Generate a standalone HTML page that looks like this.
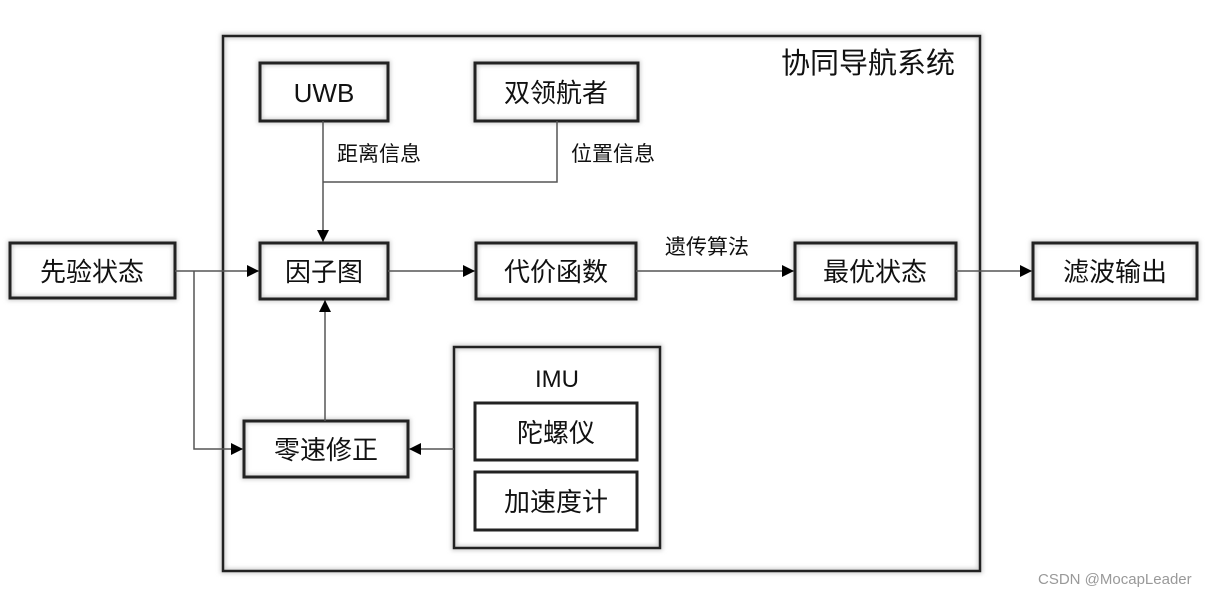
<!DOCTYPE html>
<html><head><meta charset="utf-8"><style>
html,body{margin:0;padding:0;background:#fff;}
svg{display:block;}
text{font-family:"Liberation Sans","Noto Sans CJK SC",sans-serif;fill:#111;}
</style></head><body>
<svg width="1215" height="594" viewBox="0 0 1215 594" xmlns="http://www.w3.org/2000/svg">
<defs>
<marker id="a" viewBox="0 0 10 10" refX="10" refY="5" markerWidth="12" markerHeight="12" markerUnits="userSpaceOnUse" orient="auto">
<path d="M0,0 L10,5 L0,10 z" fill="#000"/></marker>
<filter id="s" x="-10%" y="-10%" width="120%" height="120%"><feGaussianBlur stdDeviation="2"/></filter>
</defs>
<g fill="none" stroke="#ccc" stroke-width="5" filter="url(#s)">
<rect x="223" y="36" width="757" height="535"/>
<rect x="260" y="63" width="128" height="58"/><rect x="475" y="63" width="163" height="58"/>
<rect x="10" y="243" width="165" height="55"/><rect x="260" y="243" width="128" height="56"/>
<rect x="476" y="243" width="160" height="56"/><rect x="795" y="243" width="161" height="56"/>
<rect x="1033" y="243" width="164" height="56"/><rect x="244" y="421" width="164" height="56"/>
<rect x="454" y="347" width="206" height="201"/>
</g>
<g fill="none" stroke="#222" stroke-width="3">
<rect x="223" y="36" width="757" height="535" stroke-width="2.5"/>
<rect x="260" y="63" width="128" height="58"/><rect x="475" y="63" width="163" height="58"/>
<rect x="10" y="243" width="165" height="55"/><rect x="260" y="243" width="128" height="56"/>
<rect x="476" y="243" width="160" height="56"/><rect x="795" y="243" width="161" height="56"/>
<rect x="1033" y="243" width="164" height="56"/><rect x="244" y="421" width="164" height="56"/>
<rect x="454" y="347" width="206" height="201" stroke-width="2.5"/>
<rect x="475" y="403" width="162" height="57"/><rect x="475" y="472" width="162" height="58"/>
</g>
<g fill="none" stroke="#555" stroke-width="1.5">
<line x1="323" y1="121" x2="323" y2="242" marker-end="url(#a)"/>
<polyline points="557,121 557,182 323,182"/>
<line x1="175" y1="271" x2="259" y2="271" marker-end="url(#a)"/>
<polyline points="194,271 194,449 243,449" marker-end="url(#a)"/>
<line x1="325" y1="421" x2="325" y2="300" marker-end="url(#a)"/>
<line x1="454" y1="449" x2="409" y2="449" marker-end="url(#a)"/>
<line x1="388" y1="271" x2="475" y2="271" marker-end="url(#a)"/>
<line x1="636" y1="271" x2="794" y2="271" marker-end="url(#a)"/>
<line x1="956" y1="271" x2="1032" y2="271" marker-end="url(#a)"/>
</g>
<g font-size="26" text-anchor="middle">
<text x="324" y="102">UWB</text>
<text x="556" y="102">双领航者</text>
<text x="92" y="281">先验状态</text>
<text x="324" y="281">因子图</text>
<text x="556" y="281">代价函数</text>
<text x="875" y="281">最优状态</text>
<text x="1115" y="281">滤波输出</text>
<text x="326" y="459">零速修正</text>
<text x="556" y="442">陀螺仪</text>
<text x="556" y="511">加速度计</text>
<text x="557" y="387" font-size="24">IMU</text>
<text x="868" y="73" font-size="29">协同导航系统</text>
</g>
<g font-size="21">
<text x="337" y="161">距离信息</text>
<text x="571" y="161">位置信息</text>
<text x="665" y="254">遗传算法</text>
</g>
<text x="1038" y="584" font-size="15" style="fill:#999">CSDN @MocapLeader</text>
</svg>
</body></html>
